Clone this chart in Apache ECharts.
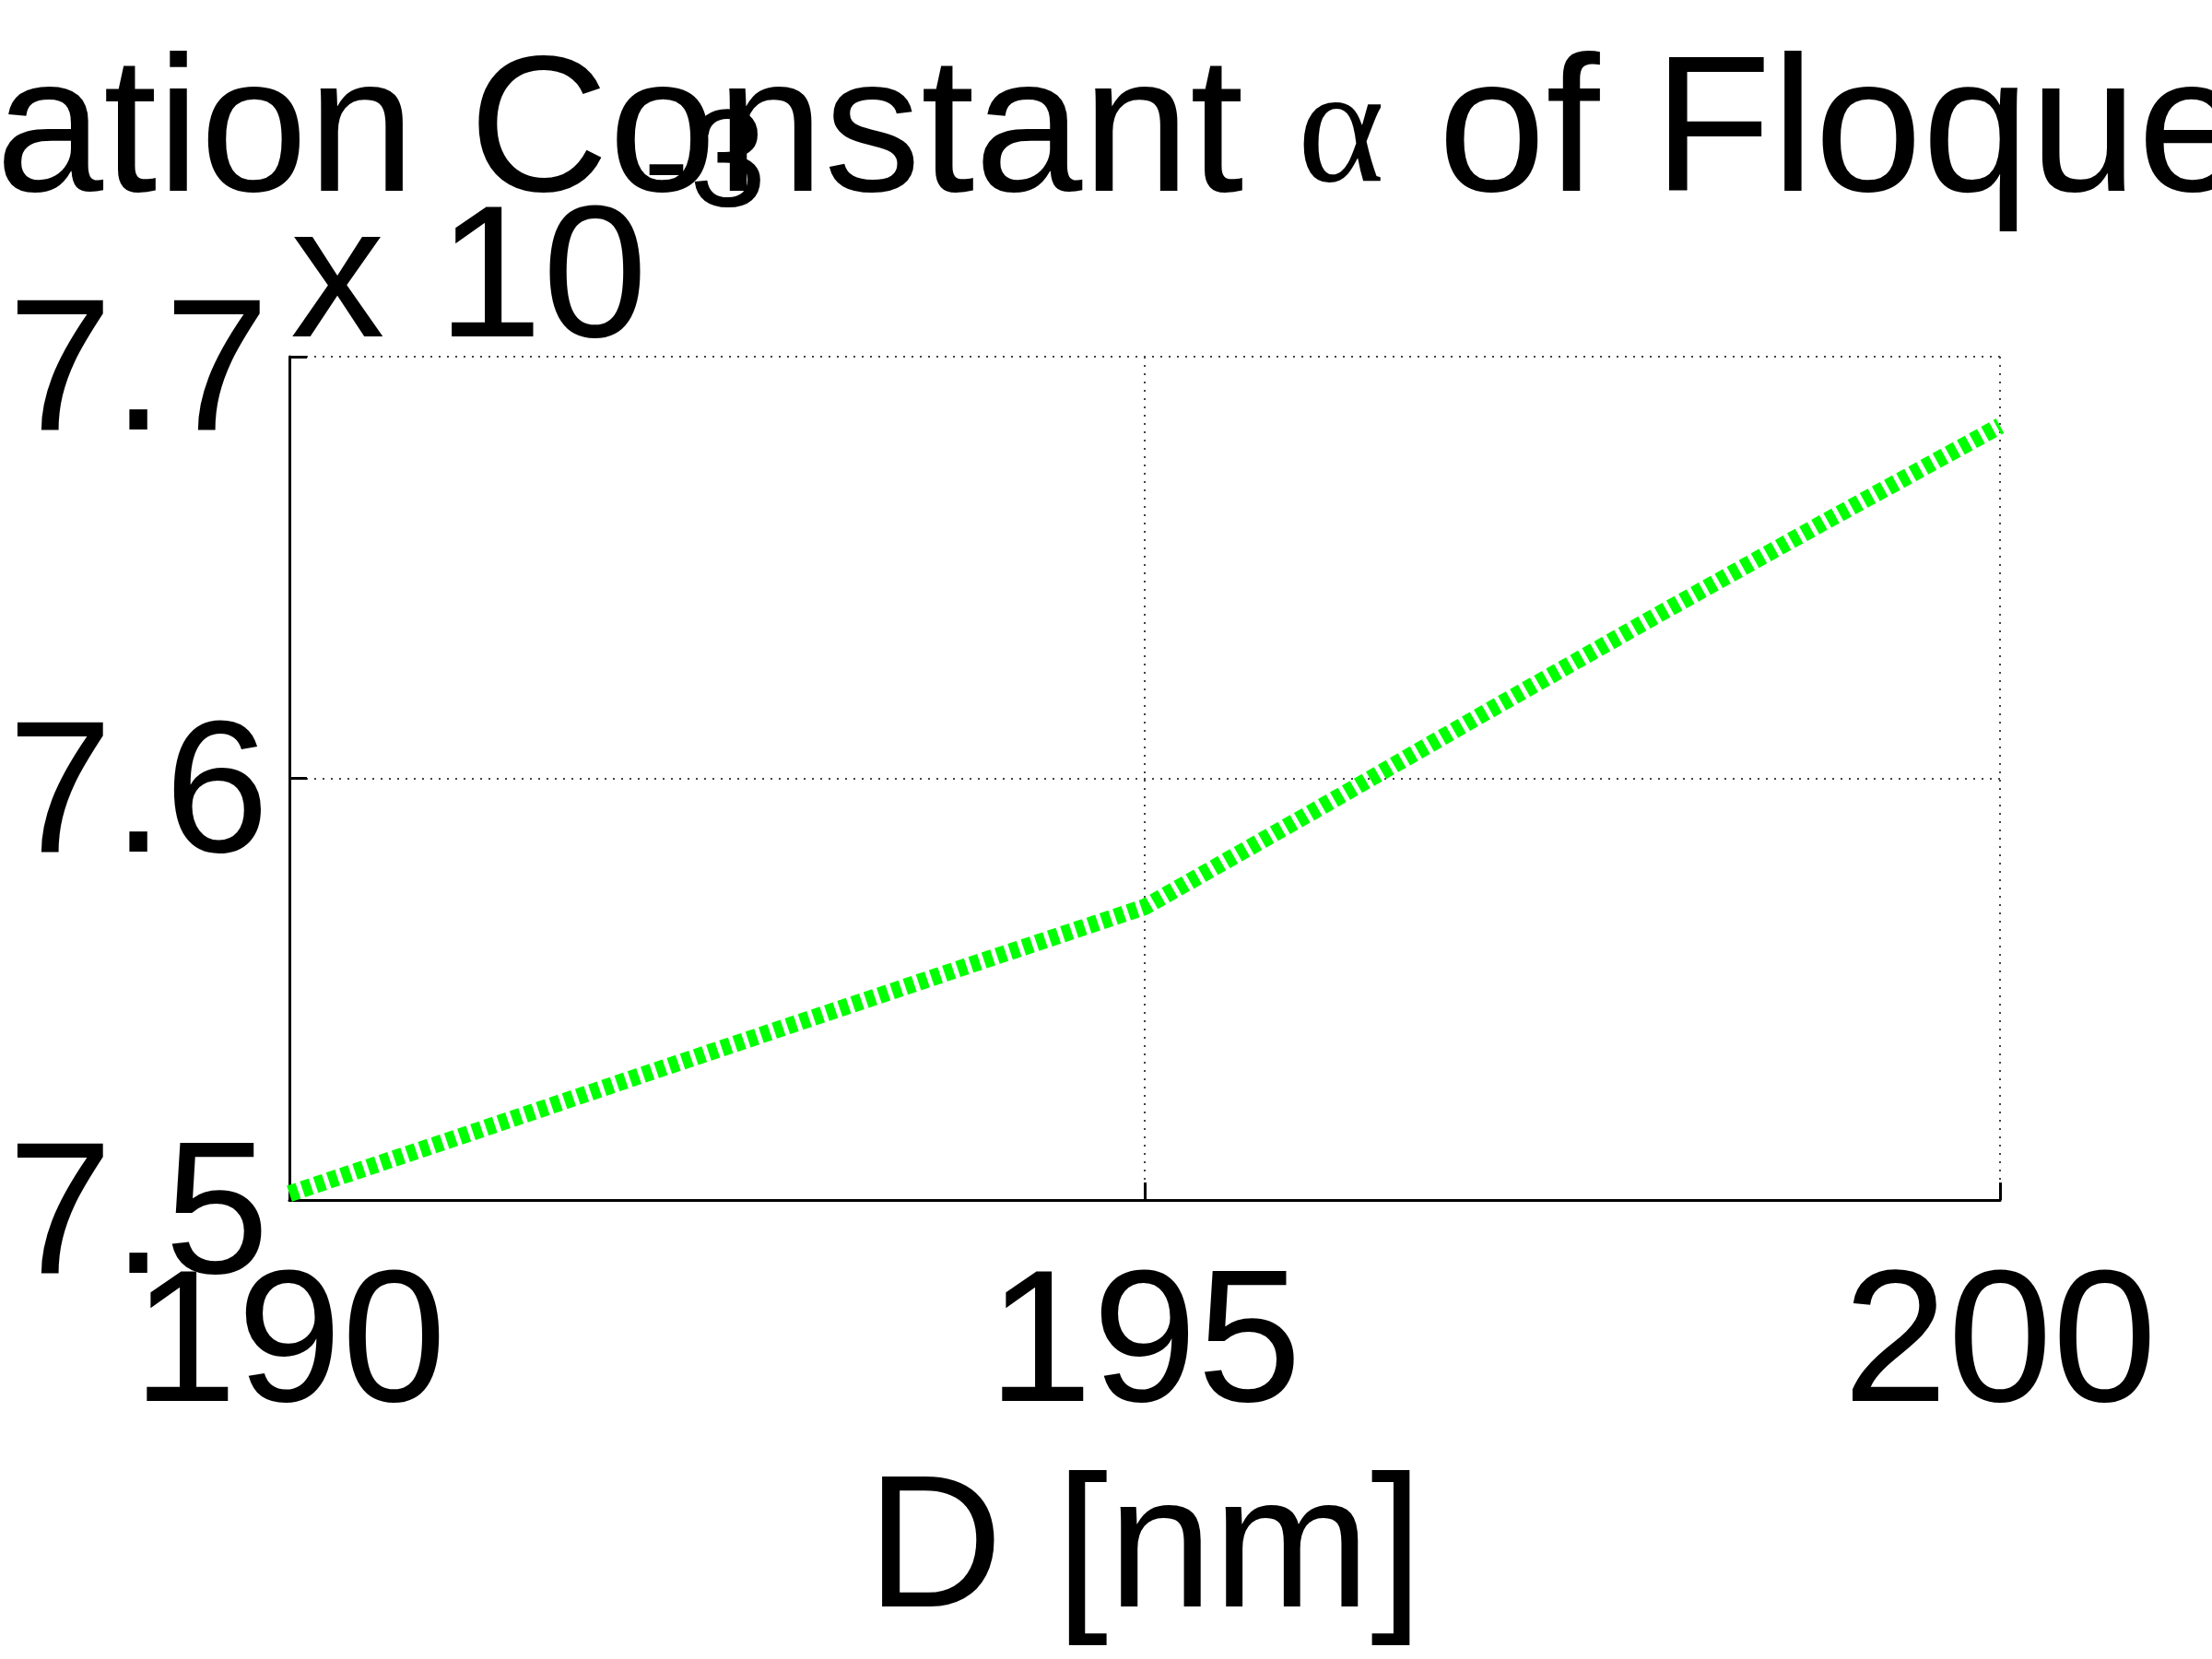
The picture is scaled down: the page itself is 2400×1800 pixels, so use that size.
<!DOCTYPE html>
<html>
<head>
<meta charset="utf-8">
<title>Attenuation Constant</title>
<script src="https://cdn.jsdelivr.net/npm/echarts@6/dist/echarts.min.js"></script>
<style>
  html, body { margin: 0; padding: 0; background: #fff; }
  #chart { width: 2400px; height: 1800px; }
</style>
</head>
<body>
<div id="chart"></div>
<script>
// diameter D [nm]
const dValues = [190, 191, 192, 193, 194, 195, 196, 197, 198, 199, 200]
// attenuation constant alpha, in units of 1e-3
const alphaValues = [7.5015, 7.5151, 7.5288, 7.5424, 7.5560, 7.5695, 7.5925, 7.6158, 7.6388, 7.6614, 7.6836]
const xTicks = [190, 195, 200]
const yTicks = [7.5, 7.6, 7.7]

const font = 'Liberation Sans'
const myChart = echarts.init(document.getElementById('chart'))

const seriesData = dValues.map((d, i) => [d, alphaValues[i]])

const option = {
  backgroundColor: '#ffffff',
  animation: false,
  title: {
    text: 'Attenuation Constant {a|α} of Floquet Mode',
    left: -612,
    top: 44,
    padding: 0,
    textStyle: {
      fontFamily: font,
      fontSize: 210,
      fontWeight: 'normal',
      color: '#000',
      rich: {
        a: { fontFamily: 'Liberation Serif', fontSize: 180, color: '#000' }
      }
    }
  },
  graphic: [
    {
      type: 'text',
      left: 315,
      top: 206,
      style: { text: 'x 10', font: '205px "Liberation Sans"', fill: '#000' }
    },
    {
      type: 'text',
      left: 698,
      top: 108,
      style: { text: '-3', font: '150px "Liberation Sans"', fill: '#000' }
    }
  ],
  grid: {
    left: 314,
    right: 230,
    top: 387,
    bottom: 498,
    containLabel: false
  },
  xAxis: {
    type: 'value',
    min: xTicks[0],
    max: xTicks[xTicks.length - 1],
    interval: 5,
    name: 'D [nm]',
    nameLocation: 'middle',
    nameGap: 282,
    nameTextStyle: { fontFamily: font, fontSize: 205, color: '#000' },
    axisLine: { show: true, lineStyle: { color: '#000', width: 3 } },
    axisTick: { show: true, inside: true, length: 19, lineStyle: { color: '#000', width: 3 } },
    axisLabel: {
      margin: 60,
      fontFamily: font,
      fontSize: 204,
      color: '#000'
    },
    splitLine: { show: true, lineStyle: { color: '#444', width: 2, type: [2, 7] } }
  },
  yAxis: {
    type: 'value',
    min: yTicks[0],
    max: yTicks[yTicks.length - 1],
    interval: 0.1,
    axisLine: { show: true, lineStyle: { color: '#000', width: 3 } },
    axisTick: { show: true, inside: true, length: 19, lineStyle: { color: '#000', width: 3 } },
    axisLabel: {
      margin: 22,
      fontFamily: font,
      fontSize: 204,
      color: '#000',
      verticalAlign: 'top',
      lineHeight: 46,
      formatter: val => val.toFixed(1)
    },
    splitLine: { show: true, lineStyle: { color: '#444', width: 2, type: [2, 7] } }
  },
  series: [
    {
      type: 'line',
      data: seriesData,
      showSymbol: false,
      smooth: false,
      lineStyle: { color: '#00ff00', width: 18, type: [10, 5], cap: 'butt' },
      z: 5
    }
  ]
}

myChart.setOption(option)
window.addEventListener('resize', () => {
  myChart && myChart.resize()
})
</script>
</body>
</html>
